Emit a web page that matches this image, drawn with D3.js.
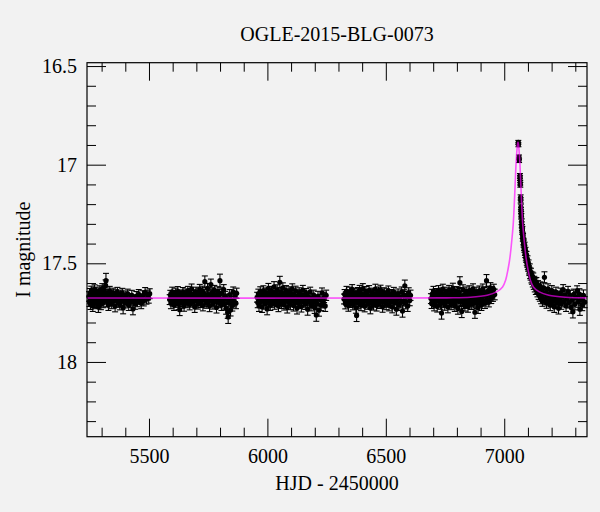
<!DOCTYPE html>
<html><head><meta charset="utf-8">
<script src="https://cdn.jsdelivr.net/npm/d3@7/dist/d3.min.js"></script>
<style>html,body{margin:0;padding:0;background:#f2f2f2;}svg{display:block;}</style>
</head><body>
<svg id="chart" width="600" height="512"></svg>
<script>
// ---- data: [HJD-2450000, I mag, error] ----
const season2010 = [[5246.8,17.668,.024],[5248.9,17.693,.026],[5250.6,17.651,.023],[5252.7,17.707,.027],[5254.5,17.676,.025],[5256.3,17.640,.024],[5258.8,17.689,.026],[5260.4,17.662,.025],[5262.7,17.716,.028],[5264.2,17.679,.025],[5266.9,17.647,.023],[5268.5,17.698,.026],[5270.3,17.633,.024],[5272.8,17.684,.025],[5274.4,17.659,.024],[5276.1,17.703,.027],[5278.6,17.671,.025],[5280.2,17.645,.024],[5282.9,17.692,.026],[5284.6,17.666,.025],[5286.3,17.721,.028],[5288.7,17.655,.024],[5290.4,17.686,.026],[5292.8,17.638,.024],[5294.5,17.679,.025],[5296.9,17.708,.027],[5298.6,17.652,.024],[5300.3,17.690,.026],[5302.8,17.628,.025],[5304.5,17.673,.025],[5306.9,17.699,.026],[5309.4,17.660,.025],[5311.8,17.643,.024],[5314.3,17.682,.025],[5316.9,17.612,.028],[5318.4,17.588,.037],[5320.8,17.671,.025],[5323.5,17.694,.026],[5326.1,17.656,.024],[5328.7,17.712,.027],[5331.4,17.669,.025],[5334.2,17.641,.024],[5337.0,17.687,.026],[5339.8,17.660,.025],[5342.6,17.703,.027],[5345.5,17.676,.025],[5348.3,17.650,.024],[5351.2,17.691,.026],[5354.1,17.667,.025],[5357.0,17.718,.028],[5360.2,17.658,.024],[5363.4,17.684,.025],[5366.7,17.646,.024],[5369.9,17.697,.026],[5373.2,17.672,.025],[5376.6,17.709,.027],[5380.1,17.661,.025],[5383.7,17.688,.026],[5387.3,17.651,.024],[5390.8,17.726,.030],[5394.5,17.677,.025],[5398.3,17.700,.026],[5402.2,17.665,.025],[5406.1,17.690,.026],[5410.2,17.655,.024],[5414.4,17.712,.027],[5418.7,17.679,.025],[5423.1,17.697,.026],[5427.6,17.662,.025],[5432.2,17.731,.030],[5436.9,17.686,.026],[5441.7,17.706,.027],[5446.6,17.668,.025],[5451.6,17.694,.026],[5456.7,17.657,.024],[5461.9,17.683,.025],[5467.2,17.703,.027],[5472.6,17.664,.025],[5478.1,17.690,.026],[5483.7,17.647,.024],[5489.4,17.682,.025],[5495.2,17.661,.025],[5499.0,17.676,.026],[5503.1,17.654,.025]];

const season2011 = [[5587.4,17.684,.025],[5590.1,17.661,.024],[5592.7,17.703,.027],[5595.3,17.672,.025],[5597.9,17.645,.024],[5600.6,17.691,.026],[5603.2,17.666,.025],[5605.9,17.712,.027],[5608.5,17.679,.025],[5611.2,17.650,.024],[5613.8,17.697,.026],[5616.4,17.663,.025],[5619.1,17.686,.026],[5621.7,17.642,.024],[5624.4,17.708,.027],[5627.0,17.674,.025],[5629.6,17.735,.030],[5632.3,17.659,.024],[5634.9,17.693,.026],[5637.6,17.668,.025],[5640.2,17.701,.027],[5642.9,17.647,.024],[5645.5,17.681,.025],[5648.2,17.715,.028],[5650.8,17.662,.025],[5653.5,17.690,.026],[5656.1,17.654,.024],[5658.8,17.676,.025],[5661.4,17.699,.026],[5664.1,17.641,.024],[5666.7,17.685,.025],[5669.4,17.667,.025],[5672.0,17.709,.027],[5674.7,17.652,.024],[5677.3,17.689,.026],[5680.0,17.630,.025],[5682.6,17.673,.025],[5685.3,17.696,.026],[5687.9,17.658,.024],[5690.6,17.683,.025],[5693.2,17.721,.028],[5695.9,17.664,.025],[5698.5,17.645,.024],[5701.2,17.691,.026],[5703.8,17.669,.025],[5706.5,17.705,.027],[5709.1,17.650,.024],[5711.8,17.680,.025],[5714.4,17.632,.025],[5717.1,17.698,.026],[5719.7,17.661,.025],[5722.4,17.688,.026],[5725.0,17.640,.024],[5727.7,17.714,.027],[5730.3,17.671,.025],[5733.0,17.655,.024],[5735.8,17.593,.029],[5738.6,17.684,.025],[5741.4,17.702,.026],[5744.3,17.666,.025],[5747.1,17.627,.025],[5750.0,17.693,.026],[5752.9,17.659,.024],[5755.8,17.717,.028],[5758.7,17.677,.025],[5761.3,17.608,.028],[5764.2,17.687,.026],[5767.1,17.648,.024],[5770.1,17.705,.027],[5773.0,17.669,.025],[5776.0,17.636,.024],[5779.0,17.694,.026],[5782.0,17.661,.025],[5785.1,17.724,.028],[5788.1,17.678,.025],[5791.2,17.643,.024],[5794.3,17.699,.026],[5797.4,17.657,.025],[5799.6,17.588,.033],[5802.6,17.684,.025],[5805.8,17.712,.027],[5809.0,17.650,.024],[5812.3,17.691,.026],[5815.6,17.633,.025],[5818.9,17.705,.027],[5822.3,17.667,.025],[5825.7,17.729,.029],[5829.1,17.682,.026],[5832.6,17.748,.031],[5834.4,17.772,.033],[5837.2,17.700,.027],[5840.8,17.658,.025],[5844.4,17.737,.030],[5848.1,17.686,.026],[5851.8,17.714,.028],[5855.6,17.645,.025],[5859.4,17.694,.027],[5863.3,17.668,.026],[5867.2,17.703,.027],[5870.1,17.652,.026]];

const season2012 = [[5956.5,17.672,.025],[5959.2,17.699,.026],[5961.8,17.655,.024],[5964.5,17.716,.028],[5967.1,17.681,.025],[5969.8,17.643,.024],[5972.4,17.694,.026],[5975.1,17.664,.025],[5977.7,17.721,.028],[5980.4,17.676,.025],[5983.0,17.638,.024],[5985.7,17.689,.026],[5988.3,17.660,.025],[5991.0,17.705,.027],[5993.6,17.649,.024],[5996.3,17.683,.025],[5998.9,17.731,.030],[6001.6,17.668,.025],[6004.2,17.627,.025],[6006.9,17.692,.026],[6009.5,17.657,.024],[6012.2,17.712,.027],[6014.8,17.674,.025],[6017.5,17.641,.024],[6020.1,17.697,.026],[6022.8,17.663,.025],[6025.4,17.686,.026],[6028.1,17.619,.026],[6030.7,17.706,.027],[6033.4,17.670,.025],[6036.0,17.651,.024],[6038.7,17.693,.026],[6041.3,17.634,.025],[6044.0,17.679,.025],[6046.6,17.717,.028],[6049.3,17.659,.024],[6052.4,17.596,.030],[6054.6,17.688,.026],[6057.2,17.646,.024],[6059.9,17.702,.027],[6062.5,17.667,.025],[6065.2,17.624,.025],[6067.8,17.684,.025],[6070.5,17.710,.027],[6073.1,17.655,.024],[6075.8,17.691,.026],[6078.4,17.637,.024],[6081.1,17.675,.025],[6083.7,17.724,.028],[6086.4,17.662,.025],[6089.0,17.696,.026],[6091.7,17.643,.024],[6094.3,17.681,.025],[6097.0,17.708,.027],[6099.6,17.653,.024],[6102.3,17.688,.026],[6105.0,17.629,.025],[6107.8,17.671,.025],[6110.6,17.714,.028],[6113.4,17.658,.024],[6116.3,17.693,.026],[6119.2,17.640,.024],[6122.1,17.685,.025],[6125.1,17.728,.029],[6128.0,17.666,.025],[6131.0,17.701,.027],[6134.1,17.648,.024],[6137.1,17.690,.026],[6140.2,17.659,.025],[6143.3,17.719,.028],[6146.5,17.677,.025],[6149.7,17.636,.024],[6153.0,17.696,.026],[6156.3,17.663,.025],[6159.6,17.707,.027],[6163.0,17.652,.024],[6166.4,17.686,.026],[6169.9,17.733,.030],[6173.4,17.670,.025],[6177.0,17.697,.026],[6180.6,17.645,.024],[6184.3,17.713,.028],[6188.0,17.679,.025],[6191.8,17.700,.027],[6195.7,17.661,.025],[6199.6,17.725,.029],[6203.5,17.688,.026],[6206.4,17.762,.032],[6209.5,17.706,.027],[6213.6,17.667,.025],[6217.7,17.738,.030],[6221.9,17.684,.026],[6226.2,17.712,.028],[6230.5,17.650,.025],[6234.9,17.699,.027],[6239.4,17.673,.026],[6244.0,17.716,.028],[6248.1,17.662,.026]];

const season2013 = [[6323.4,17.681,.025],[6326.0,17.657,.024],[6328.7,17.704,.027],[6331.3,17.669,.025],[6334.0,17.641,.024],[6336.6,17.692,.026],[6339.3,17.661,.025],[6341.9,17.715,.028],[6344.6,17.678,.025],[6347.2,17.645,.024],[6349.9,17.698,.026],[6352.5,17.664,.025],[6355.2,17.687,.026],[6357.8,17.632,.024],[6360.5,17.709,.027],[6363.1,17.673,.025],[6365.8,17.651,.024],[6368.4,17.694,.026],[6371.1,17.660,.025],[6373.7,17.724,.029],[6376.6,17.764,.031],[6379.0,17.683,.025],[6381.7,17.647,.024],[6384.3,17.701,.027],[6387.0,17.667,.025],[6389.6,17.636,.024],[6392.3,17.689,.026],[6394.9,17.712,.028],[6397.6,17.655,.024],[6400.2,17.680,.025],[6402.9,17.628,.025],[6405.5,17.696,.026],[6408.2,17.663,.025],[6410.8,17.718,.028],[6413.5,17.675,.025],[6416.1,17.642,.024],[6418.8,17.690,.026],[6421.4,17.658,.025],[6424.1,17.706,.027],[6426.7,17.671,.025],[6429.4,17.637,.024],[6432.0,17.685,.025],[6434.7,17.727,.029],[6437.3,17.664,.025],[6440.0,17.699,.026],[6442.6,17.650,.024],[6445.3,17.682,.025],[6447.9,17.710,.027],[6450.6,17.656,.024],[6453.2,17.693,.026],[6455.9,17.631,.025],[6458.5,17.676,.025],[6461.2,17.714,.028],[6463.8,17.661,.025],[6466.5,17.688,.026],[6469.2,17.644,.024],[6472.0,17.702,.027],[6474.8,17.668,.025],[6477.6,17.635,.024],[6480.5,17.691,.026],[6483.4,17.659,.025],[6486.3,17.720,.028],[6489.2,17.677,.025],[6492.2,17.648,.024],[6495.2,17.697,.026],[6498.2,17.665,.025],[6501.3,17.708,.027],[6504.4,17.653,.024],[6507.5,17.686,.026],[6510.7,17.639,.024],[6513.9,17.713,.028],[6517.1,17.671,.025],[6520.4,17.696,.026],[6523.7,17.657,.024],[6527.1,17.722,.029],[6530.5,17.680,.025],[6533.9,17.646,.024],[6537.4,17.700,.027],[6540.9,17.666,.025],[6544.5,17.733,.030],[6548.1,17.684,.026],[6551.8,17.655,.025],[6555.5,17.711,.028],[6559.3,17.672,.026],[6563.1,17.699,.027],[6567.0,17.645,.025],[6570.4,17.742,.031],[6574.2,17.690,.027],[6577.3,17.660,.026],[6580.2,17.614,.029],[6584.0,17.703,.028],[6588.1,17.668,.026],[6592.3,17.716,.028],[6596.6,17.650,.026],[6600.9,17.688,.027],[6604.2,17.662,.026]];

const season2014 = [[6690.5,17.679,.025],[6693.2,17.702,.027],[6695.8,17.656,.024],[6698.5,17.688,.026],[6701.1,17.641,.024],[6703.8,17.713,.028],[6706.4,17.670,.025],[6709.1,17.695,.026],[6711.7,17.652,.024],[6714.4,17.684,.025],[6717.0,17.719,.028],[6719.7,17.662,.025],[6722.3,17.637,.024],[6725.0,17.692,.026],[6727.6,17.668,.025],[6730.3,17.706,.027],[6732.9,17.649,.024],[6735.3,17.752,.031],[6738.2,17.680,.025],[6740.8,17.631,.025],[6743.5,17.697,.026],[6746.1,17.660,.025],[6748.8,17.711,.027],[6751.4,17.673,.025],[6754.1,17.645,.024],[6756.7,17.689,.026],[6759.4,17.657,.024],[6762.0,17.722,.029],[6764.7,17.678,.025],[6767.3,17.636,.024],[6770.0,17.694,.026],[6772.6,17.665,.025],[6775.3,17.708,.027],[6777.9,17.650,.024],[6780.6,17.685,.025],[6783.2,17.626,.025],[6785.9,17.699,.026],[6788.5,17.663,.025],[6791.2,17.716,.028],[6793.8,17.674,.025],[6796.5,17.642,.024],[6799.1,17.690,.026],[6801.8,17.659,.025],[6804.4,17.729,.029],[6807.1,17.681,.025],[6809.7,17.647,.024],[6812.6,17.598,.030],[6815.2,17.693,.026],[6817.9,17.667,.025],[6820.5,17.744,.031],[6823.2,17.686,.026],[6825.8,17.633,.024],[6828.5,17.702,.027],[6831.1,17.661,.025],[6833.8,17.714,.028],[6836.4,17.676,.025],[6839.1,17.644,.024],[6841.7,17.696,.026],[6844.4,17.656,.024],[6847.0,17.720,.028],[6849.7,17.683,.025],[6852.3,17.638,.024],[6855.0,17.691,.026],[6857.6,17.664,.025],[6860.3,17.707,.027],[6862.9,17.651,.024],[6865.6,17.687,.026],[6868.2,17.629,.025],[6870.9,17.699,.027],[6873.5,17.668,.025],[6876.2,17.748,.031],[6878.8,17.682,.026],[6881.5,17.645,.024],[6884.1,17.703,.027],[6886.8,17.660,.025],[6889.5,17.725,.029],[6892.3,17.678,.026],[6895.1,17.639,.024],[6897.9,17.694,.027],[6900.8,17.655,.025],[6903.7,17.711,.028],[6906.6,17.671,.026],[6909.6,17.630,.025],[6912.6,17.689,.027],[6915.7,17.648,.025],[6918.8,17.701,.028],[6921.9,17.662,.026],[6925.1,17.588,.031],[6928.3,17.683,.027],[6931.6,17.641,.025],[6934.9,17.694,.027],[6938.3,17.655,.026],[6941.7,17.624,.026],[6945.2,17.677,.027],[6948.7,17.643,.026],[6952.3,17.666,.027],[6956.0,17.632,.026],[6959.7,17.658,.027]];

const season2015 = [[7059.4,16.887,.010],[7059.8,16.899,.010],[7062.2,16.962,.011],[7062.6,16.978,.011],[7066.3,17.057,.012],[7066.7,17.068,.012],[7067.4,17.091,.012],[7067.9,17.102,.012],[7069.2,17.166,.013],[7069.6,17.181,.013],[7070.3,17.214,.014],[7070.8,17.232,.014],[7071.4,17.251,.014],[7072.2,17.262,.014],[7073.1,17.289,.015],[7073.9,17.305,.015],[7074.8,17.318,.015],[7075.7,17.337,.016],[7076.5,17.329,.016],[7077.6,17.358,.016],[7078.5,17.372,.016],[7079.4,17.365,.016],[7080.5,17.389,.017],[7081.6,17.401,.017],[7082.7,17.394,.017],[7083.8,17.418,.017],[7085.0,17.426,.018],[7086.1,17.411,.018],[7087.3,17.442,.018],[7088.6,17.453,.018],[7089.8,17.437,.018],[7091.1,17.468,.019],[7092.4,17.476,.019],[7093.8,17.459,.019],[7095.2,17.491,.019],[7096.6,17.499,.020],[7098.1,17.482,.020],[7099.6,17.512,.020],[7101.1,17.520,.020],[7102.7,17.503,.020],[7104.3,17.533,.021],[7106.0,17.541,.021],[7107.7,17.524,.021],[7109.4,17.556,.021],[7111.2,17.563,.022],[7113.0,17.547,.022],[7114.8,17.577,.022],[7116.7,17.584,.022],[7118.6,17.566,.022],[7120.6,17.597,.023],[7122.6,17.572,.023],[7124.7,17.609,.023],[7126.8,17.589,.023],[7128.9,17.621,.024],[7131.1,17.603,.024],[7133.3,17.634,.024],[7135.6,17.596,.024],[7137.9,17.628,.024],[7140.3,17.645,.025],[7142.7,17.612,.024],[7145.2,17.658,.025],[7147.7,17.631,.025],[7150.3,17.667,.025],[7152.9,17.618,.024],[7155.6,17.679,.026],[7158.3,17.643,.025],[7161.1,17.692,.026],[7163.9,17.656,.025],[7166.8,17.624,.025],[7169.7,17.571,.028],[7172.6,17.684,.026],[7175.6,17.648,.025],[7178.6,17.701,.027],[7181.7,17.663,.025],[7184.8,17.629,.025],[7187.9,17.690,.026],[7191.1,17.655,.025],[7194.3,17.712,.028],[7197.6,17.672,.026],[7200.9,17.638,.025],[7204.3,17.694,.026],[7207.7,17.660,.025],[7211.2,17.721,.028],[7214.7,17.683,.026],[7218.3,17.646,.025],[7221.9,17.700,.027],[7225.6,17.666,.025],[7229.3,17.728,.029],[7233.1,17.687,.026],[7236.9,17.651,.025],[7240.8,17.706,.027],[7244.7,17.670,.026],[7248.7,17.633,.025],[7252.7,17.694,.027],[7256.8,17.660,.026],[7260.9,17.716,.028],[7265.1,17.679,.026],[7269.4,17.642,.025],[7273.7,17.699,.027],[7278.1,17.663,.026],[7282.5,17.724,.029],[7287.0,17.686,.027],[7289.8,17.746,.031],[7293.6,17.657,.026],[7298.2,17.708,.028],[7302.9,17.672,.027],[7307.7,17.640,.026],[7312.5,17.695,.028],[7317.4,17.656,.027],[7319.3,17.733,.031],[7324.3,17.684,.028],[7329.3,17.711,.029],[7334.4,17.662,.027],[7339.5,17.697,.028]];

// model light curve: [HJD-2450000, I mag]
const modelCurve = [[5238.3,17.676],[6558,17.676],[6758,17.675],[6858,17.672],[6928,17.662],[6968,17.645],[6993,17.620],[7006,17.585],[7016,17.530],[7023,17.480],[7028,17.430],[7033,17.370],[7038,17.300],[7042,17.210],[7046,17.100],[7050,16.990],[7054,16.920],[7056,16.897],[7058,16.885],[7060,16.897],[7062,16.920],[7066,16.990],[7070,17.100],[7074,17.210],[7078,17.300],[7083,17.370],[7088,17.430],[7093,17.480],[7100,17.530],[7110,17.585],[7123,17.620],[7148,17.645],[7188,17.662],[7258,17.672],[7349.4,17.675]];

const xMajorTicks = [5500, 6000, 6500, 7000];
const xMinorTicks = [5300,5400,5600,5700,5800,5900,6100,6200,6300,6400,6600,6700,6800,6900,7100,7200,7300];
const yMajorTicks = [16.5, 17, 17.5, 18];
const yMinorTicks = [16.6,16.7,16.8,16.9,17.1,17.2,17.3,17.4,17.6,17.7,17.8,17.9,18.1,18.2,18.3];
const xDomain = [5238.3, 7349.4];
const yDomain = [16.483, 18.379];
const titleText = "OGLE-2015-BLG-0073";
const xLabel = "HJD - 2450000";
const yLabel = "I magnitude";

// ---- drawing ----
const L = 87, R = 587, T = 62.7, B = 436.7;
const FONT = "'Liberation Serif', 'DejaVu Serif', serif";
const svg = d3.select("#chart");
svg.append("rect").attr("width",600).attr("height",512).attr("fill","#f2f2f2");

const x = d3.scaleLinear().domain(xDomain).range([L, R]);
const y = d3.scaleLinear().domain(yDomain).range([T, B]);

const allData = [].concat(season2010, season2011, season2012, season2013, season2014, season2015);

const plot = svg.append("g");
// error bars
const eb = plot.append("g").attr("stroke","#000").attr("stroke-width",1.1).attr("fill","none");
allData.forEach(d => {
  const cx = x(d[0]), y1 = y(d[1]-d[2]), y2 = y(d[1]+d[2]);
  eb.append("line").attr("x1",cx).attr("x2",cx).attr("y1",y1).attr("y2",y2);
  eb.append("line").attr("x1",cx-3).attr("x2",cx+3).attr("y1",y1).attr("y2",y1);
  eb.append("line").attr("x1",cx-3).attr("x2",cx+3).attr("y1",y2).attr("y2",y2);
});
plot.append("g").selectAll("circle").data(allData).join("circle")
  .attr("cx", d => x(d[0])).attr("cy", d => y(d[1])).attr("r", 2.6).attr("fill","#000");

// model
const line = d3.line().x(d => x(d[0])).y(d => y(d[1])).curve(d3.curveCatmullRom.alpha(0.5));
plot.append("path").datum(modelCurve).attr("d", line)
  .attr("fill","none").attr("stroke","#ff00ff").attr("stroke-opacity",0.65).attr("stroke-width",1.6);

// axes (inward ticks on all four sides)
function styleAxis(g){ g.select(".domain").remove(); g.selectAll("line").attr("stroke","#000"); g.selectAll("text").attr("font-family",FONT).attr("font-size",20).attr("fill","#000"); }
svg.append("g").attr("transform",`translate(0,${B})`).call(d3.axisBottom(x).tickValues(xMajorTicks).tickSize(-18).tickPadding(12).tickFormat(d3.format("d"))).call(styleAxis);
svg.append("g").attr("transform",`translate(0,${B})`).call(d3.axisBottom(x).tickValues(xMinorTicks).tickSize(-9).tickFormat("")).call(styleAxis);
svg.append("g").attr("transform",`translate(0,${T})`).call(d3.axisTop(x).tickValues(xMajorTicks).tickSize(-18).tickFormat("")).call(styleAxis);
svg.append("g").attr("transform",`translate(0,${T})`).call(d3.axisTop(x).tickValues(xMinorTicks).tickSize(-9).tickFormat("")).call(styleAxis);
svg.append("g").attr("transform",`translate(${L},0)`).call(d3.axisLeft(y).tickValues(yMajorTicks).tickSize(-19).tickPadding(10).tickFormat(d => String(d))).call(styleAxis);
svg.append("g").attr("transform",`translate(${L},0)`).call(d3.axisLeft(y).tickValues(yMinorTicks).tickSize(-9).tickFormat("")).call(styleAxis);
svg.append("g").attr("transform",`translate(${R},0)`).call(d3.axisRight(y).tickValues(yMajorTicks).tickSize(-19).tickFormat("")).call(styleAxis);
svg.append("g").attr("transform",`translate(${R},0)`).call(d3.axisRight(y).tickValues(yMinorTicks).tickSize(-9).tickFormat("")).call(styleAxis);

// frame
svg.append("rect").attr("x",L).attr("y",T).attr("width",R-L).attr("height",B-T)
  .attr("fill","none").attr("stroke","#000").attr("stroke-width",1.2);

// titles
svg.append("text").attr("x",(L+R)/2).attr("y",40.5).attr("text-anchor","middle")
  .attr("font-family",FONT).attr("font-size",20).attr("fill","#000").text(titleText);
svg.append("text").attr("x",(L+R)/2).attr("y",490).attr("text-anchor","middle")
  .attr("font-family",FONT).attr("font-size",20).attr("fill","#000").text(xLabel);
svg.append("text").attr("transform",`translate(30,${(T+B)/2}) rotate(-90)`).attr("text-anchor","middle")
  .attr("font-family",FONT).attr("font-size",20).attr("fill","#000").text(yLabel);
</script>
</body></html>
